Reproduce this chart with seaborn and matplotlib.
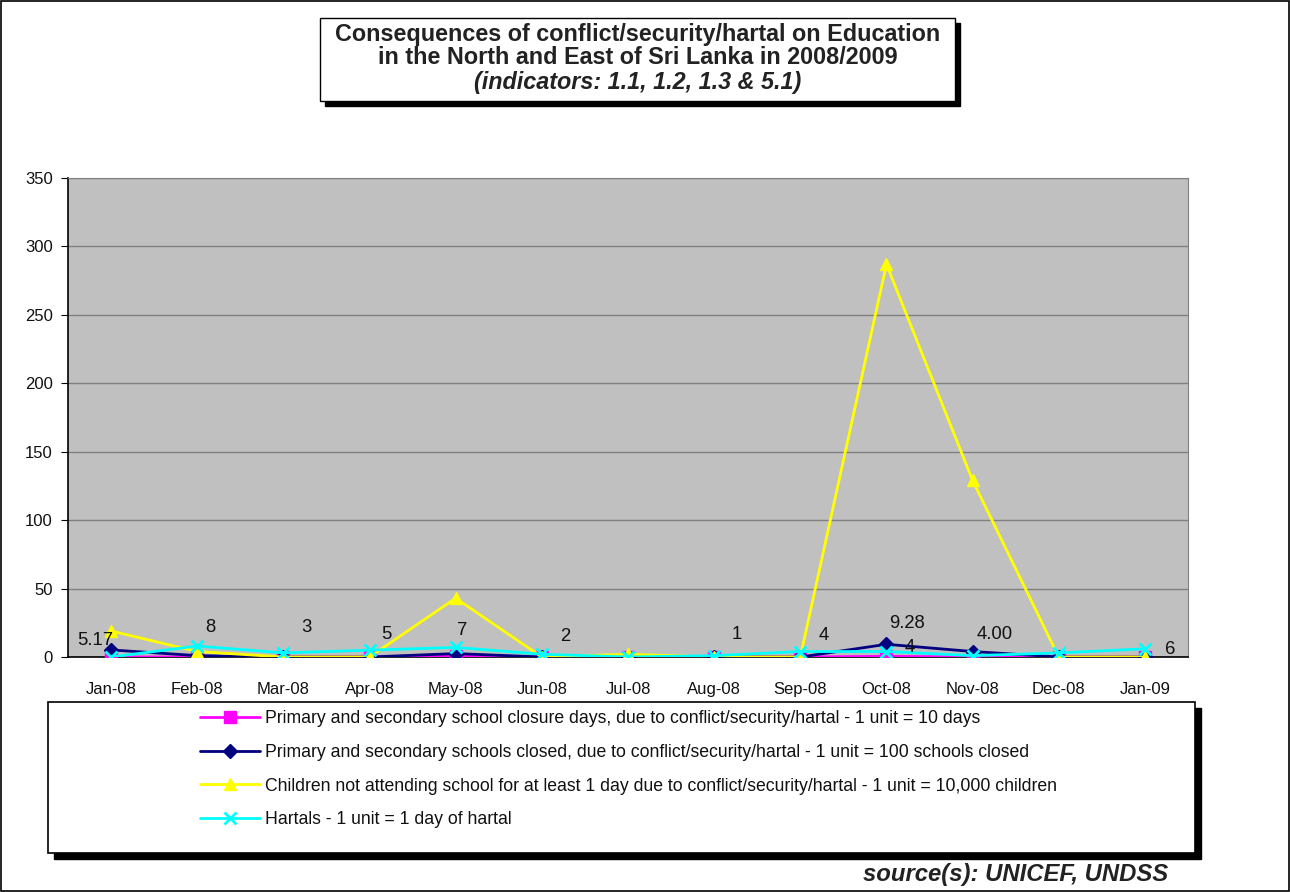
import numpy as np
import pandas as pd
import matplotlib
matplotlib.use("Agg")
import matplotlib.pyplot as plt
from matplotlib.patches import Rectangle
from matplotlib.lines import Line2D
import seaborn as sns

months = ["Jan-08", "Feb-08", "Mar-08", "Apr-08", "May-08", "Jun-08", "Jul-08",
          "Aug-08", "Sep-08", "Oct-08", "Nov-08", "Dec-08", "Jan-09"]

closure_days = [0, 0, 0, 0, 0.5, 0, 0, 0, 0, 0.5, 0, 0, 0]
schools_closed = [5.17, 1, 0, 0, 2.5, 0, 0, 0, 0, 9.28, 4.00, 0, 0]
children_absent = [19, 4, 0, 0, 43, 0, 2, 0, 0, 287, 129, 0, 0]
hartals = [0, 8, 3, 5, 7, 2, 0, 1, 4, 4, 1, 3, 6]

schools_labels = ["5.17", None, None, None, None, None, None, None, None, "9.28", "4.00", None, None]
hartal_labels = [None, "8", "3", "5", "7", "2", None, "1", "4", "4", None, None, "6"]

legend_names = [
    "Primary and secondary school closure days, due to conflict/security/hartal - 1 unit = 10 days",
    "Primary and secondary schools closed, due to conflict/security/hartal - 1 unit = 100 schools closed",
    "Children not attending school for at least 1 day due to conflict/security/hartal - 1 unit = 10,000 children",
    "Hartals - 1 unit = 1 day of hartal",
]

sns.set_style("white")
plt.rcParams["font.family"] = ["Liberation Sans", "DejaVu Sans"]

W, H = 1290, 892
fig = plt.figure(figsize=(W / 100, H / 100), dpi=100)
fig.patch.set_facecolor("white")


def fx(px):
    return px / W


def fy(py):
    return 1 - py / H


ax = fig.add_axes([fx(68), fy(657), fx(1188) - fx(68), fy(178) - fy(657)])
ax.set_facecolor("#C0C0C0")

x = np.arange(len(months))
styles = [
    (closure_days, "#FF00FF", "s", 8, 1),
    (schools_closed, "#000080", "D", 7, 1),
    (children_absent, "#FFFF00", "^", 9, 1),
    (hartals, "#00FFFF", "x", 9, 2),
]
for vals, col, mk, ms, mew in styles:
    df = pd.DataFrame({"x": x, "y": vals})
    sns.lineplot(data=df, x="x", y="y", ax=ax, color=col, marker=mk, markersize=ms,
                 markeredgecolor=col, markeredgewidth=mew, linewidth=2, zorder=3)

ax.set_xlim(-0.5, len(months) - 0.5)
ax.set_ylim(0, 350)
ax.set_yticks(range(0, 351, 50))
ax.yaxis.grid(True, color="#808080", linewidth=1)
ax.set_axisbelow(True)
ax.set_xticks(x)
ax.set_xticklabels(months, fontsize=12, color="#111111")
ax.set_xticks(np.arange(-0.5, len(months), 1), minor=True)
ax.tick_params(axis="x", which="major", length=0, pad=18)
ax.tick_params(axis="x", which="minor", length=5, color="black", direction="out")
ax.tick_params(axis="y", length=5, color="black", direction="out", labelsize=12,
               labelcolor="#111111", left=True, pad=6)
ax.set_xlabel("")
ax.set_ylabel("")
for s in ["left", "bottom"]:
    ax.spines[s].set_color("black")
    ax.spines[s].set_linewidth(1.2)
for s in ["top", "right"]:
    ax.spines[s].set_color("#808080")

# data labels, hand-placed as in the original (offsets in points)
label_offsets = {
    ("s", 0): (-11.5, 7), ("s", 9): (15, 15), ("s", 10): (16, 12),
    ("h", 1): (9.5, 13.5), ("h", 2): (16.5, 18.5), ("h", 3): (12, 11), ("h", 4): (4.5, 12),
    ("h", 5): (17, 13), ("h", 7): (16.5, 15), ("h", 8): (17, 11.5), ("h", 9): (17, 3),
    ("h", 12): (18, -0.5),
}
for key, labels, vals in [("s", schools_labels, schools_closed), ("h", hartal_labels, hartals)]:
    for i, lab in enumerate(labels):
        if lab is None:
            continue
        dx, dy = label_offsets.get((key, i), (15, 12))
        ax.annotate(lab, (x[i], vals[i]), xytext=(dx, dy), textcoords="offset points",
                    ha="center", va="center", fontsize=13.3, color="#111111")

# outer border
fig.add_artist(Rectangle((0.001, 0.001), 0.998, 0.998, transform=fig.transFigure,
                         fill=False, edgecolor="black", linewidth=1.2))

# title box with shadow
tx0, ty0, tx1, ty1 = 320, 18, 955, 101
fig.add_artist(Rectangle((fx(tx0 + 5), fy(ty1 + 5)), fx(tx1 - tx0), fy(ty0) - fy(ty1),
                         transform=fig.transFigure, facecolor="black", edgecolor="black"))
fig.add_artist(Rectangle((fx(tx0), fy(ty1)), fx(tx1 - tx0), fy(ty0) - fy(ty1),
                         transform=fig.transFigure, facecolor="white", edgecolor="black", linewidth=1))
tcx = (tx0 + tx1) / 2
fig.text(fx(tcx), fy(34), "Consequences of conflict/security/hartal on Education",
         ha="center", va="center", fontsize=16.8, fontweight="bold", color="#222222")
fig.text(fx(tcx), fy(58), "in the North and East of Sri Lanka in 2008/2009",
         ha="center", va="center", fontsize=16.8, fontweight="bold", color="#222222")
fig.text(fx(tcx), fy(82), "(indicators: 1.1, 1.2, 1.3 & 5.1)",
         ha="center", va="center", fontsize=16.8, fontweight="bold", style="italic", color="#222222")

# legend box with shadow
lx0, ly0, lx1, ly1 = 48, 702, 1195, 853
fig.add_artist(Rectangle((fx(lx0 + 6), fy(ly1 + 6)), fx(lx1 - lx0), fy(ly0) - fy(ly1),
                         transform=fig.transFigure, facecolor="black", edgecolor="black"))
fig.add_artist(Rectangle((fx(lx0), fy(ly1)), fx(lx1 - lx0), fy(ly0) - fy(ly1),
                         transform=fig.transFigure, facecolor="white", edgecolor="black", linewidth=1.2))
handles = [Line2D([0], [0], color=col, marker=mk, markersize=ms, markeredgecolor=col,
                  markeredgewidth=mew, linewidth=2)
           for _, col, mk, ms, mew in styles]
fig.legend(handles, legend_names, loc="upper left", bbox_to_anchor=(fx(200), fy(710)),
           frameon=False, fontsize=12.7, handlelength=3.4, handletextpad=0.3,
           labelspacing=0.95, borderpad=0, borderaxespad=0, labelcolor="#111111")

fig.text(fx(1168), fy(874), "source(s): UNICEF, UNDSS", ha="right", va="center",
         fontsize=17.2, fontweight="bold", style="italic", color="#222222")

fig.savefig("out.png", dpi=100)
